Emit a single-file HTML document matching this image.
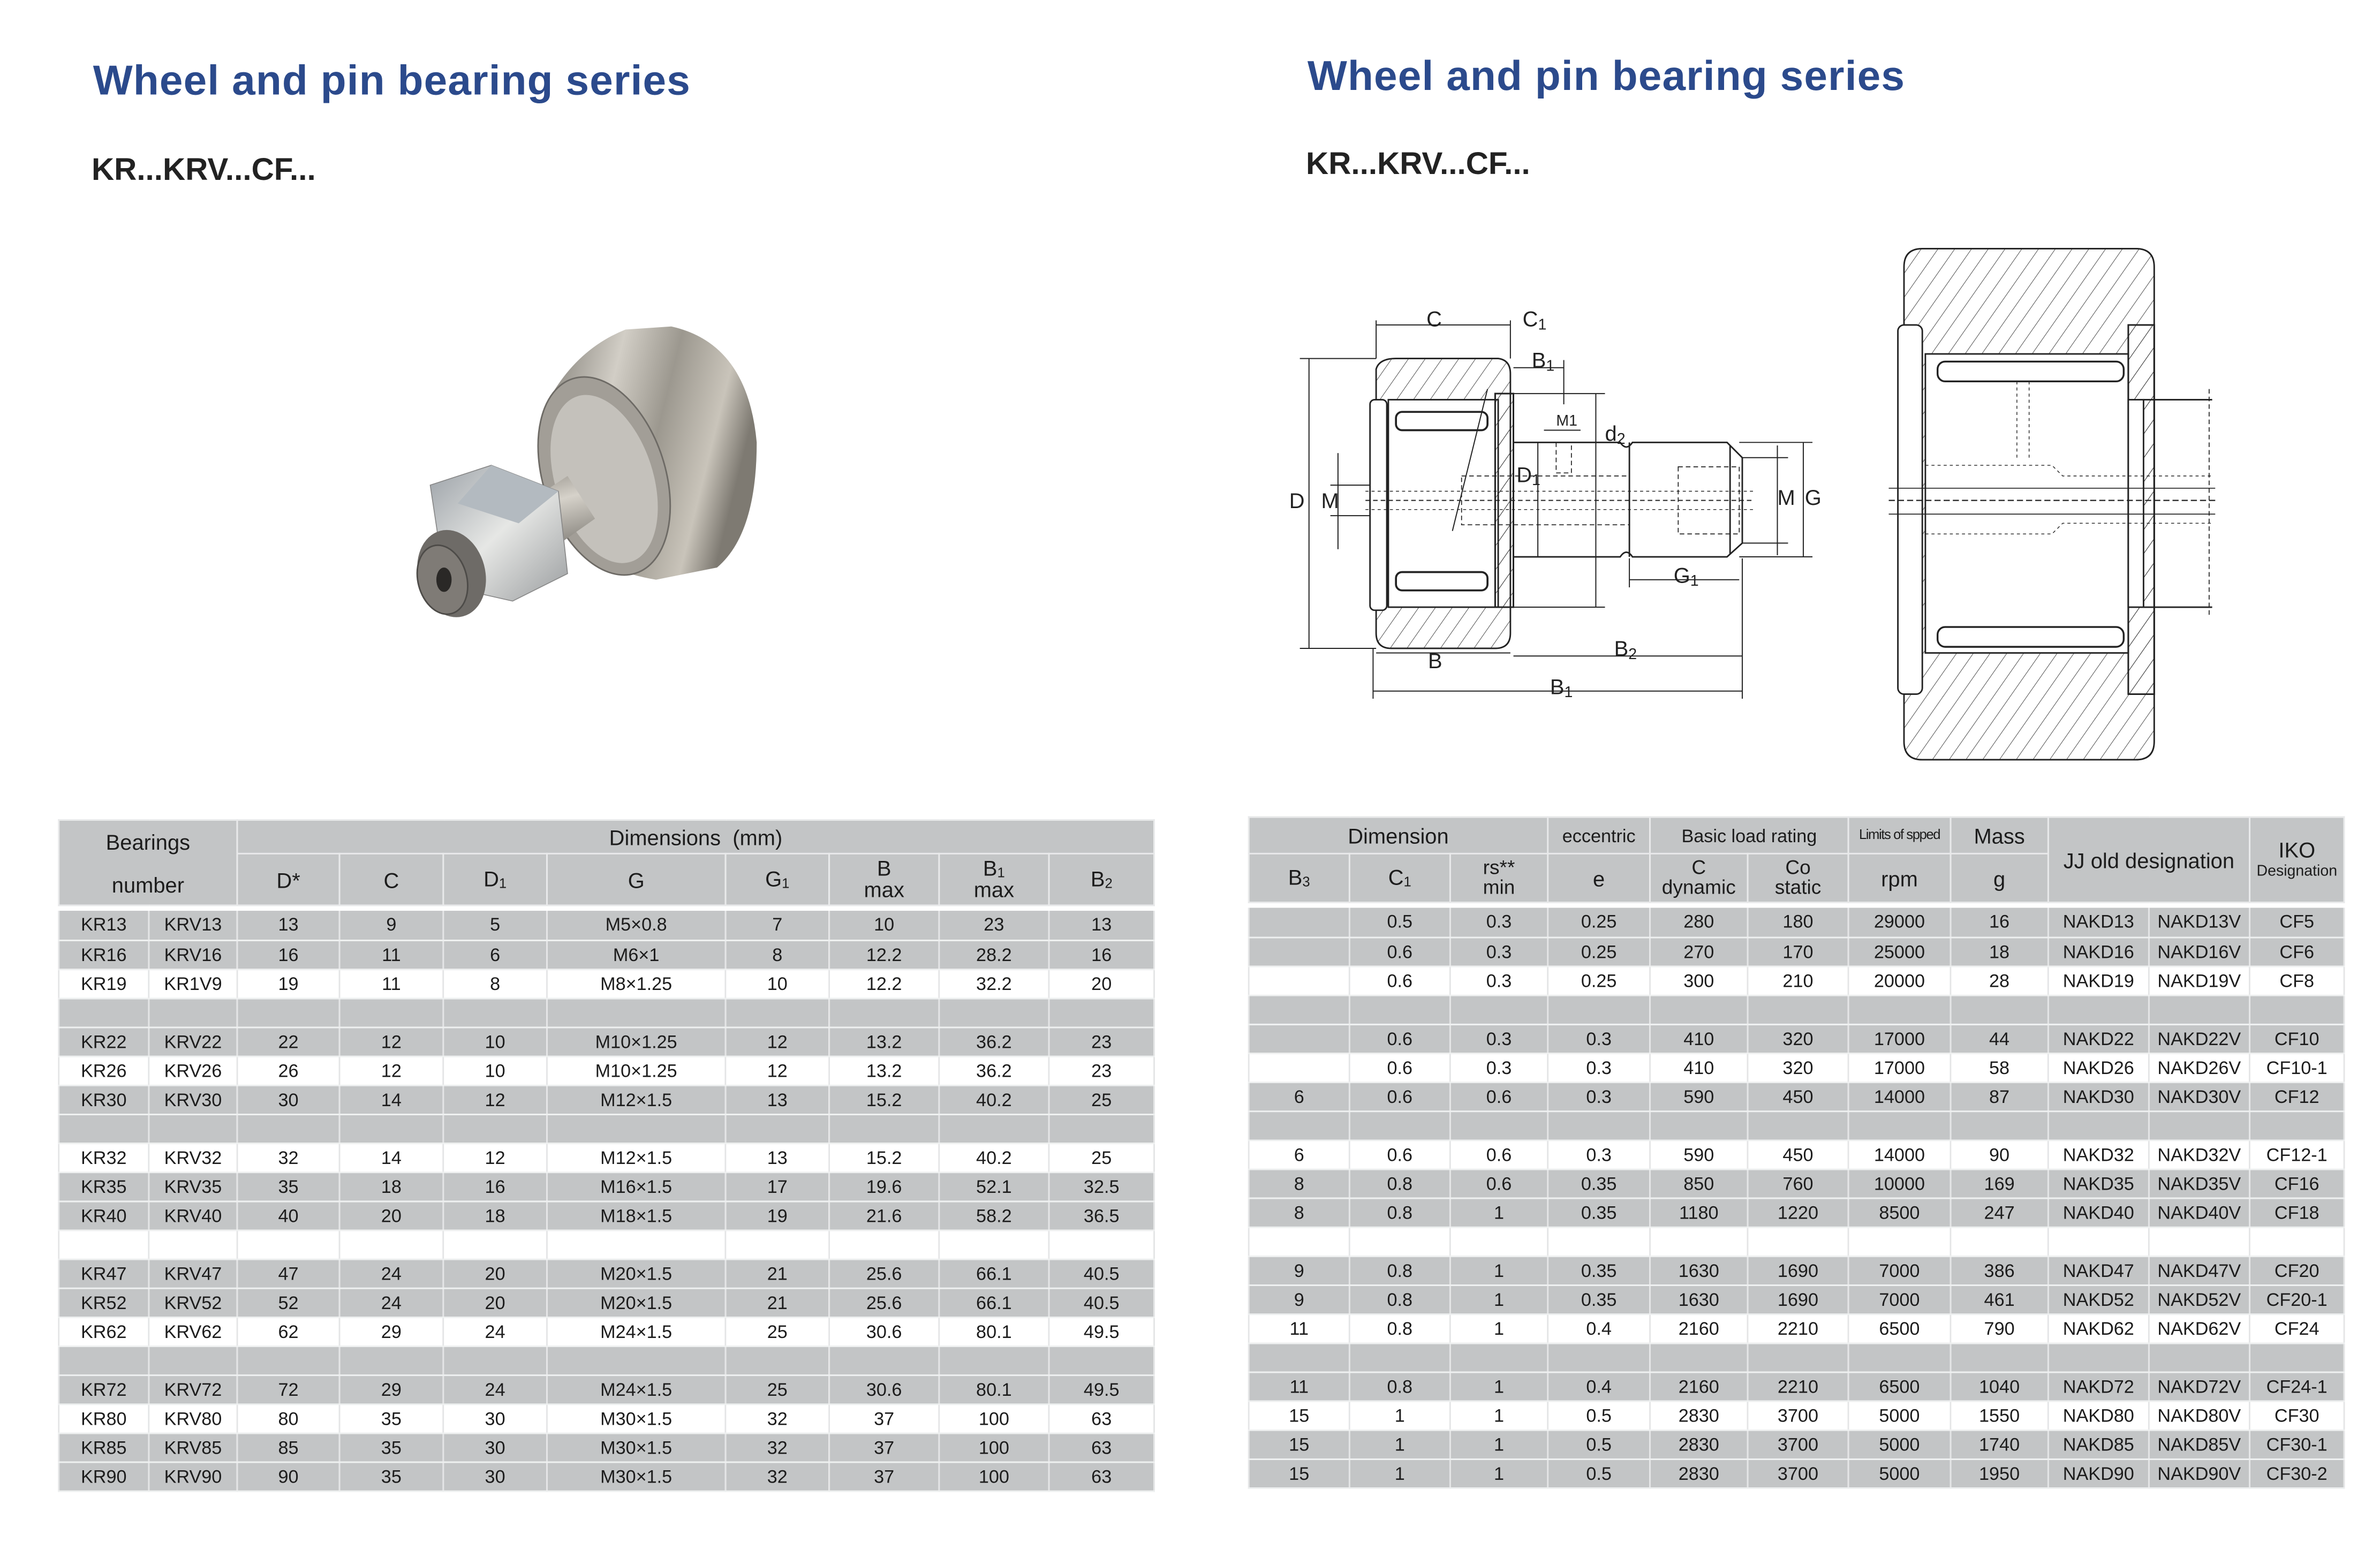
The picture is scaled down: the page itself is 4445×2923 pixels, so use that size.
<!DOCTYPE html>
<html><head><meta charset="utf-8">
<style>
html,body{margin:0;padding:0;background:#fff;}
body{width:4445px;height:2922px;overflow:hidden;position:relative;}
#w{position:absolute;left:0;top:0;width:1560px;height:1026px;transform:scale(2.84936);transform-origin:0 0;font-family:"Liberation Sans",sans-serif;color:#1c1c1c;}
.t{position:absolute;font-weight:bold;color:#2b4a8c;font-size:27.5px;letter-spacing:0.4px;}
.s{position:absolute;font-weight:bold;color:#222;font-size:20.5px;}
table{position:absolute;border-collapse:collapse;table-layout:fixed;}
td{padding:0;text-align:center;vertical-align:middle;font-size:12px;border-left:1px solid #e4e5e6;border-right:1px solid #e4e5e6;line-height:1;overflow:hidden;white-space:nowrap;}
.h td{background:#c3c5c6;font-size:14px;border:1px solid #e8e9ea;}
.g td{background:#c3c5c6;}
.b tr td{border-bottom:1px solid #eef0f0;}
.wr td{background:#fff;}
sub{font-size:9px;vertical-align:-1px;}
</style></head><body><div id="w">
<div class="t" style="left:61px;top:37px;">Wheel and pin bearing series</div>
<div class="s" style="left:60px;top:100px;">KR...KRV...CF...</div>
<div class="t" style="left:857px;top:34px;">Wheel and pin bearing series</div>
<div class="s" style="left:856px;top:96px;">KR...KRV...CF...</div>

<!-- photo -->
<svg style="position:absolute;left:0;top:0" width="1560" height="1026">
<defs>
<linearGradient id="cy" x1="0" y1="0" x2="1" y2="0.3"><stop offset="0" stop-color="#7d7a73"/><stop offset="0.35" stop-color="#d2cec6"/><stop offset="0.6" stop-color="#9c988f"/><stop offset="0.85" stop-color="#c9c4ba"/><stop offset="1" stop-color="#7e7a72"/></linearGradient>
<linearGradient id="st" x1="0" y1="0" x2="0.3" y2="1"><stop offset="0" stop-color="#85817a"/><stop offset="0.4" stop-color="#d6d2ca"/><stop offset="1" stop-color="#6c6963"/></linearGradient>
<linearGradient id="nt" x1="0" y1="0" x2="1" y2="1"><stop offset="0" stop-color="#9ba1a7"/><stop offset="0.5" stop-color="#e6e7e5"/><stop offset="1" stop-color="#9a9d9f"/></linearGradient>
<pattern id="h" width="9" height="9" patternUnits="userSpaceOnUse" patternTransform="rotate(35)"><line x1="0" y1="0" x2="0" y2="9" stroke="#333" stroke-width="0.6"/></pattern>
</defs>
<path d="M362,258 Q380,228 410,216 L440,214 Q490,225 496,290 Q496,350 470,372 L430,380 Q370,370 358,320 Z" fill="url(#cy)"/>
<ellipse cx="396" cy="312" rx="40" ry="67" transform="rotate(-18 396 312)" fill="#a29e97" stroke="#6d6a65" stroke-width="1"/>
<ellipse cx="396" cy="314" rx="32" ry="57" transform="rotate(-18 396 314)" fill="#c4c1bb"/>
<path d="M318,348 L372,312 L390,340 L336,378 Z" fill="url(#st)"/>
<polygon points="282,318 322,305 366,322 372,376 336,394 292,384" fill="url(#nt)" stroke="#888" stroke-width="0.6"/>
<polygon points="322,305 366,322 340,343 300,330" fill="#b3bac0"/>
<ellipse cx="296" cy="376" rx="22" ry="29" transform="rotate(-15 296 376)" fill="#6e6b67"/>
<ellipse cx="290" cy="380" rx="16" ry="23" transform="rotate(-15 290 380)" fill="#7f7b76" stroke="#4d4b48"/>
<ellipse cx="291" cy="380" rx="5" ry="8" fill="#2a2826"/>
</svg>

<!-- drawings -->
<svg style="position:absolute;left:0;top:0" width="1560" height="1026" fill="none" stroke="#222" stroke-width="1">
<g font-family="Liberation Sans" font-size="14" fill="#222" stroke="none">
<text x="935" y="214">C</text><text x="998" y="214">C<tspan font-size="10" dy="2">1</tspan></text>
<text x="1004" y="241">B<tspan font-size="10" dy="2">1</tspan></text>
<text x="1020" y="279" font-size="10">M1</text><text x="1052" y="289">d<tspan font-size="10" dy="2">2</tspan></text>
<text x="994" y="316">D<tspan font-size="10" dy="2">1</tspan></text>
<text x="845" y="333">D</text><text x="866" y="333">M</text>
<text x="1165" y="331">M</text><text x="1183" y="331">G</text>
<text x="936" y="364">R500</text>
<text x="1097" y="382">G<tspan font-size="10" dy="2">1</tspan></text>
<text x="936" y="438">B</text><text x="1058" y="430">B<tspan font-size="10" dy="2">2</tspan></text>
<text x="1016" y="455">B<tspan font-size="10" dy="2">1</tspan></text>
</g>
<path d="M902,242 Q904,235 915,235 L982,235 Q990,236 990,245 L990,415 Q990,425 980,425 L912,425 Q902,425 902,415 Z" fill="url(#h)"/>
<rect x="910" y="262" width="72" height="136" fill="#fff"/>
<rect x="915" y="270" width="60" height="12" rx="4" fill="#fff" stroke-width="1.3"/>
<rect x="915" y="375" width="60" height="12" rx="4" fill="#fff" stroke-width="1.3"/>
<rect x="898" y="262" width="11" height="138" rx="3" fill="#fff"/>
<rect x="980" y="258" width="12" height="140" fill="url(#h)"/>
<rect x="980" y="258" width="12" height="140"/>
<path d="M992,290 L1062,290 Q1066,296 1070,290 L1132,290 L1142,300 L1142,356 L1132,365 L1070,365 Q1066,359 1062,365 L992,365"/>
<line x1="1068" y1="290" x2="1068" y2="365"/><line x1="1134" y1="292" x2="1134" y2="363"/>
<line x1="895" y1="328" x2="1150" y2="328" stroke-dasharray="3 2" stroke-width="0.7"/>
<line x1="895" y1="322" x2="1150" y2="322" stroke-dasharray="2 2" stroke-width="0.5"/>
<line x1="895" y1="334" x2="1150" y2="334" stroke-dasharray="2 2" stroke-width="0.5"/>
<rect x="958" y="312" width="110" height="32" stroke-dasharray="3 2" stroke-width="0.6"/>
<rect x="1100" y="306" width="40" height="44" stroke-dasharray="3 2" stroke-width="0.6"/>
<path d="M1020,290 L1020,310 L1030,310 L1030,290" stroke-dasharray="3 2" stroke-width="0.6"/>
<g stroke-width="0.7">
<line x1="858" y1="235" x2="858" y2="425"/><line x1="852" y1="235" x2="902" y2="235"/><line x1="852" y1="425" x2="902" y2="425"/>
<line x1="877" y1="297" x2="877" y2="360"/><line x1="872" y1="318" x2="898" y2="318"/><line x1="872" y1="338" x2="898" y2="338"/>
<line x1="902" y1="213" x2="990" y2="213"/><line x1="902" y1="210" x2="902" y2="235"/><line x1="990" y1="210" x2="990" y2="235"/>
<line x1="992" y1="241" x2="1025" y2="241"/><line x1="1025" y1="236" x2="1025" y2="265"/>
<line x1="1012" y1="282" x2="1036" y2="282"/>
<line x1="992" y1="258" x2="1052" y2="258"/><line x1="992" y1="398" x2="1052" y2="398"/><line x1="1046" y1="258" x2="1046" y2="398"/>
<line x1="1008" y1="290" x2="1008" y2="365"/>
<line x1="1142" y1="300" x2="1172" y2="300"/><line x1="1142" y1="356" x2="1172" y2="356"/><line x1="1165" y1="292" x2="1165" y2="364"/>
<line x1="1140" y1="290" x2="1188" y2="290"/><line x1="1140" y1="365" x2="1188" y2="365"/><line x1="1182" y1="290" x2="1182" y2="365"/>
<line x1="1068" y1="380" x2="1140" y2="380"/><line x1="1068" y1="366" x2="1068" y2="385"/>
<line x1="902" y1="428" x2="990" y2="428"/><line x1="992" y1="430" x2="1142" y2="430"/>
<line x1="900" y1="453" x2="1142" y2="453"/><line x1="900" y1="425" x2="900" y2="458"/><line x1="1142" y1="366" x2="1142" y2="458"/>
<line x1="952" y1="348" x2="975" y2="255"/>
</g>
<path d="M1248,175 Q1248,163 1260,163 L1400,163 Q1412,163 1412,175 L1412,486 Q1412,498 1400,498 L1260,498 Q1248,498 1248,486 Z" fill="url(#h)"/>
<rect x="1262" y="232" width="133" height="196" fill="#fff"/>
<rect x="1270" y="237" width="122" height="13" rx="5" fill="#fff" stroke-width="1.2"/>
<rect x="1270" y="411" width="122" height="13" rx="5" fill="#fff" stroke-width="1.2"/>
<rect x="1244" y="213" width="16" height="242" rx="4" fill="#fff"/>
<rect x="1395" y="213" width="17" height="242" fill="url(#h)"/><rect x="1395" y="213" width="17" height="242"/>
<rect x="1395" y="262" width="10" height="136" fill="#fff"/>
<path d="M1405,262 L1450,262 M1405,398 L1450,398"/>
<line x1="1448" y1="255" x2="1448" y2="405" stroke-dasharray="3 2" stroke-width="0.6"/>
<line x1="1238" y1="328" x2="1452" y2="328" stroke-dasharray="4 2" stroke-width="0.8"/>
<line x1="1238" y1="320" x2="1452" y2="320" stroke-width="0.6"/>
<line x1="1238" y1="337" x2="1452" y2="337" stroke-width="0.6"/>
<path d="M1262,305 L1345,305 L1352,312 L1450,312 M1262,350 L1345,350 L1352,343 L1450,343" stroke-dasharray="2 2" stroke-width="0.5"/>
<path d="M1322,250 L1322,300 M1330,250 L1330,300" stroke-dasharray="2 2" stroke-width="0.5"/>
</svg>

<!-- left table -->
<table class="h" style="left:38px;top:537px;width:718px;">
<colgroup><col style="width:59px"><col style="width:58px"><col style="width:67px"><col style="width:68px"><col style="width:68px"><col style="width:117px"><col style="width:68px"><col style="width:72px"><col style="width:72px"><col style="width:69px"></colgroup>
<tr style="height:22px"><td colspan="2" rowspan="2">Bearings<br><br>number</td><td colspan="8">Dimensions&nbsp;&nbsp;(mm)</td></tr>
<tr style="height:34px"><td>D*</td><td>C</td><td>D<sub>1</sub></td><td>G</td><td>G<sub>1</sub></td><td style="line-height:0.95">B<br>max</td><td style="line-height:0.95">B<sub>1</sub><br>max</td><td>B<sub>2</sub></td></tr>
</table>
<table class="b" style="left:38px;top:597px;width:718px;">
<colgroup><col style="width:59px"><col style="width:58px"><col style="width:67px"><col style="width:68px"><col style="width:68px"><col style="width:117px"><col style="width:68px"><col style="width:72px"><col style="width:72px"><col style="width:69px"></colgroup>
<tr class="g" style="height:19px"><td>KR13</td><td>KRV13</td><td>13</td><td>9</td><td>5</td><td>M5×0.8</td><td>7</td><td>10</td><td>23</td><td>13</td></tr>
<tr class="g" style="height:19px"><td>KR16</td><td>KRV16</td><td>16</td><td>11</td><td>6</td><td>M6×1</td><td>8</td><td>12.2</td><td>28.2</td><td>16</td></tr>
<tr class="wr" style="height:19px"><td>KR19</td><td>KR1V9</td><td>19</td><td>11</td><td>8</td><td>M8×1.25</td><td>10</td><td>12.2</td><td>32.2</td><td>20</td></tr>
<tr class="g" style="height:19px"><td></td><td></td><td></td><td></td><td></td><td></td><td></td><td></td><td></td><td></td></tr>
<tr class="g" style="height:19px"><td>KR22</td><td>KRV22</td><td>22</td><td>12</td><td>10</td><td>M10×1.25</td><td>12</td><td>13.2</td><td>36.2</td><td>23</td></tr>
<tr class="wr" style="height:19px"><td>KR26</td><td>KRV26</td><td>26</td><td>12</td><td>10</td><td>M10×1.25</td><td>12</td><td>13.2</td><td>36.2</td><td>23</td></tr>
<tr class="g" style="height:19px"><td>KR30</td><td>KRV30</td><td>30</td><td>14</td><td>12</td><td>M12×1.5</td><td>13</td><td>15.2</td><td>40.2</td><td>25</td></tr>
<tr class="g" style="height:19px"><td></td><td></td><td></td><td></td><td></td><td></td><td></td><td></td><td></td><td></td></tr>
<tr class="wr" style="height:19px"><td>KR32</td><td>KRV32</td><td>32</td><td>14</td><td>12</td><td>M12×1.5</td><td>13</td><td>15.2</td><td>40.2</td><td>25</td></tr>
<tr class="g" style="height:19px"><td>KR35</td><td>KRV35</td><td>35</td><td>18</td><td>16</td><td>M16×1.5</td><td>17</td><td>19.6</td><td>52.1</td><td>32.5</td></tr>
<tr class="g" style="height:19px"><td>KR40</td><td>KRV40</td><td>40</td><td>20</td><td>18</td><td>M18×1.5</td><td>19</td><td>21.6</td><td>58.2</td><td>36.5</td></tr>
<tr class="wr" style="height:19px"><td></td><td></td><td></td><td></td><td></td><td></td><td></td><td></td><td></td><td></td></tr>
<tr class="g" style="height:19px"><td>KR47</td><td>KRV47</td><td>47</td><td>24</td><td>20</td><td>M20×1.5</td><td>21</td><td>25.6</td><td>66.1</td><td>40.5</td></tr>
<tr class="g" style="height:19px"><td>KR52</td><td>KRV52</td><td>52</td><td>24</td><td>20</td><td>M20×1.5</td><td>21</td><td>25.6</td><td>66.1</td><td>40.5</td></tr>
<tr class="wr" style="height:19px"><td>KR62</td><td>KRV62</td><td>62</td><td>29</td><td>24</td><td>M24×1.5</td><td>25</td><td>30.6</td><td>80.1</td><td>49.5</td></tr>
<tr class="g" style="height:19px"><td></td><td></td><td></td><td></td><td></td><td></td><td></td><td></td><td></td><td></td></tr>
<tr class="g" style="height:19px"><td>KR72</td><td>KRV72</td><td>72</td><td>29</td><td>24</td><td>M24×1.5</td><td>25</td><td>30.6</td><td>80.1</td><td>49.5</td></tr>
<tr class="wr" style="height:19px"><td>KR80</td><td>KRV80</td><td>80</td><td>35</td><td>30</td><td>M30×1.5</td><td>32</td><td>37</td><td>100</td><td>63</td></tr>
<tr class="g" style="height:19px"><td>KR85</td><td>KRV85</td><td>85</td><td>35</td><td>30</td><td>M30×1.5</td><td>32</td><td>37</td><td>100</td><td>63</td></tr>
<tr class="g" style="height:19px"><td>KR90</td><td>KRV90</td><td>90</td><td>35</td><td>30</td><td>M30×1.5</td><td>32</td><td>37</td><td>100</td><td>63</td></tr>
</table>

<!-- right table -->
<table class="h" style="left:818px;top:535px;width:718px;">
<colgroup><col style="width:66px"><col style="width:66px"><col style="width:64px"><col style="width:67px"><col style="width:64px"><col style="width:66px"><col style="width:67px"><col style="width:64px"><col style="width:66px"><col style="width:66px"><col style="width:62px"></colgroup>
<tr style="height:24px"><td colspan="3">Dimension</td><td style="font-size:12px">eccentric</td><td colspan="2" style="font-size:12px">Basic load rating</td><td style="font-size:9px;letter-spacing:-0.5px">Limits of spped</td><td>Mass</td><td colspan="2" rowspan="2">JJ old designation</td><td rowspan="2" style="line-height:0.9">IKO<br><span style="font-size:10px">Designation</span></td></tr>
<tr style="height:32px"><td>B<sub>3</sub></td><td>C<sub>1</sub></td><td style="font-size:13px;line-height:0.95">rs**<br>min</td><td>e</td><td style="font-size:13px;line-height:0.95">C<br>dynamic</td><td style="font-size:13px;line-height:0.95">Co<br>static</td><td>rpm</td><td>g</td></tr>
</table>
<table class="b" style="left:818px;top:595px;width:718px;">
<colgroup><col style="width:66px"><col style="width:66px"><col style="width:64px"><col style="width:67px"><col style="width:64px"><col style="width:66px"><col style="width:67px"><col style="width:64px"><col style="width:66px"><col style="width:66px"><col style="width:62px"></colgroup>
<tr class="g" style="height:19px"><td></td><td>0.5</td><td>0.3</td><td>0.25</td><td>280</td><td>180</td><td>29000</td><td>16</td><td>NAKD13</td><td>NAKD13V</td><td>CF5</td></tr>
<tr class="g" style="height:19px"><td></td><td>0.6</td><td>0.3</td><td>0.25</td><td>270</td><td>170</td><td>25000</td><td>18</td><td>NAKD16</td><td>NAKD16V</td><td>CF6</td></tr>
<tr class="wr" style="height:19px"><td></td><td>0.6</td><td>0.3</td><td>0.25</td><td>300</td><td>210</td><td>20000</td><td>28</td><td>NAKD19</td><td>NAKD19V</td><td>CF8</td></tr>
<tr class="g" style="height:19px"><td></td><td></td><td></td><td></td><td></td><td></td><td></td><td></td><td></td><td></td><td></td></tr>
<tr class="g" style="height:19px"><td></td><td>0.6</td><td>0.3</td><td>0.3</td><td>410</td><td>320</td><td>17000</td><td>44</td><td>NAKD22</td><td>NAKD22V</td><td>CF10</td></tr>
<tr class="wr" style="height:19px"><td></td><td>0.6</td><td>0.3</td><td>0.3</td><td>410</td><td>320</td><td>17000</td><td>58</td><td>NAKD26</td><td>NAKD26V</td><td>CF10-1</td></tr>
<tr class="g" style="height:19px"><td>6</td><td>0.6</td><td>0.6</td><td>0.3</td><td>590</td><td>450</td><td>14000</td><td>87</td><td>NAKD30</td><td>NAKD30V</td><td>CF12</td></tr>
<tr class="g" style="height:19px"><td></td><td></td><td></td><td></td><td></td><td></td><td></td><td></td><td></td><td></td><td></td></tr>
<tr class="wr" style="height:19px"><td>6</td><td>0.6</td><td>0.6</td><td>0.3</td><td>590</td><td>450</td><td>14000</td><td>90</td><td>NAKD32</td><td>NAKD32V</td><td>CF12-1</td></tr>
<tr class="g" style="height:19px"><td>8</td><td>0.8</td><td>0.6</td><td>0.35</td><td>850</td><td>760</td><td>10000</td><td>169</td><td>NAKD35</td><td>NAKD35V</td><td>CF16</td></tr>
<tr class="g" style="height:19px"><td>8</td><td>0.8</td><td>1</td><td>0.35</td><td>1180</td><td>1220</td><td>8500</td><td>247</td><td>NAKD40</td><td>NAKD40V</td><td>CF18</td></tr>
<tr class="wr" style="height:19px"><td></td><td></td><td></td><td></td><td></td><td></td><td></td><td></td><td></td><td></td><td></td></tr>
<tr class="g" style="height:19px"><td>9</td><td>0.8</td><td>1</td><td>0.35</td><td>1630</td><td>1690</td><td>7000</td><td>386</td><td>NAKD47</td><td>NAKD47V</td><td>CF20</td></tr>
<tr class="g" style="height:19px"><td>9</td><td>0.8</td><td>1</td><td>0.35</td><td>1630</td><td>1690</td><td>7000</td><td>461</td><td>NAKD52</td><td>NAKD52V</td><td>CF20-1</td></tr>
<tr class="wr" style="height:19px"><td>11</td><td>0.8</td><td>1</td><td>0.4</td><td>2160</td><td>2210</td><td>6500</td><td>790</td><td>NAKD62</td><td>NAKD62V</td><td>CF24</td></tr>
<tr class="g" style="height:19px"><td></td><td></td><td></td><td></td><td></td><td></td><td></td><td></td><td></td><td></td><td></td></tr>
<tr class="g" style="height:19px"><td>11</td><td>0.8</td><td>1</td><td>0.4</td><td>2160</td><td>2210</td><td>6500</td><td>1040</td><td>NAKD72</td><td>NAKD72V</td><td>CF24-1</td></tr>
<tr class="wr" style="height:19px"><td>15</td><td>1</td><td>1</td><td>0.5</td><td>2830</td><td>3700</td><td>5000</td><td>1550</td><td>NAKD80</td><td>NAKD80V</td><td>CF30</td></tr>
<tr class="g" style="height:19px"><td>15</td><td>1</td><td>1</td><td>0.5</td><td>2830</td><td>3700</td><td>5000</td><td>1740</td><td>NAKD85</td><td>NAKD85V</td><td>CF30-1</td></tr>
<tr class="g" style="height:19px"><td>15</td><td>1</td><td>1</td><td>0.5</td><td>2830</td><td>3700</td><td>5000</td><td>1950</td><td>NAKD90</td><td>NAKD90V</td><td>CF30-2</td></tr>
</table>
</div></body></html>
